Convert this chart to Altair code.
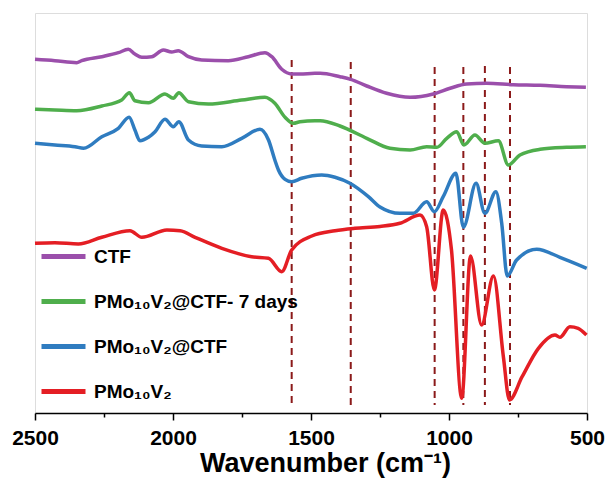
import altair as alt
import pandas as pd

# Wavenumber (cm-1) and transmittance (a.u., offset stacked)
ctf_x = [2500, 2428, 2349, 2331, 2258, 2198, 2162, 2138, 2113, 2077, 2035, 2005, 1981, 1944,
         1896, 1800, 1727, 1667, 1642, 1606, 1570, 1540, 1486, 1467, 1395, 1356, 1298, 1226,
         1141, 1057, 996, 936, 864, 767, 670, 574, 504]
ctf_y = [353.7, 352.3, 350.3, 352.3, 356.3, 360.3, 363.7, 359, 355.7, 356.3, 363, 361, 362.3, 356.3,
         353, 352.3, 356.3, 360.3, 356.3, 343.7, 339, 339, 339.7, 339.7, 336.3, 333.7, 327, 319.7,
         315.7, 319, 324.7, 329, 329.7, 328.3, 327.7, 326.3, 325.7]

d7_x = [2500, 2428, 2349, 2258, 2186, 2158, 2138, 2089, 2029, 1999, 1979, 1944, 1872, 1751,
        1667, 1631, 1594, 1564, 1540, 1486, 1467, 1395, 1298, 1214, 1141, 1081, 1044, 1008,
        972, 946, 906, 870, 821, 785, 743, 670, 574, 504]
d7_y = [303.7, 303, 302.3, 307, 313, 320.3, 312.3, 310.3, 319, 314.7, 320.3, 311.3, 309, 313,
        315.7, 309.7, 295.7, 289.7, 291.3, 292.3, 292.3, 287, 274.7, 264.7, 263, 266.3, 265.7, 274.7,
        281.3, 268, 278, 269.7, 272.3, 248, 258, 263.7, 265.7, 266.3]

pc_x = [2500, 2428, 2355, 2324, 2258, 2198, 2159, 2138, 2120, 2089, 2065, 2029, 1999, 1979,
        1944, 1896, 1823, 1751, 1685, 1654, 1631, 1618, 1594, 1570, 1534, 1461, 1413, 1359,
        1292, 1250, 1178, 1129, 1081, 1053, 1021, 975, 948, 902, 870, 830, 809, 789, 755,
        682, 598, 501]
pc_y = [269.7, 268, 266.3, 264.7, 276.3, 284.7, 295.7, 283, 272.3, 275.7, 281.3, 293.7, 286.3, 291.3,
        273, 267, 266.3, 274.7, 283.7, 273, 253, 243, 233.7, 231.3, 234.7, 238, 235.7, 229.7,
        216.3, 206, 199.7, 199.7, 211.3, 201.3, 216.3, 239.7, 185.7, 229.7, 199.7, 221.3, 189.7, 137, 153,
        163.7, 155.7, 144.7]

pm_x = [2500, 2428, 2343, 2258, 2156, 2113, 2022, 1974, 1920, 1823, 1715, 1654, 1606, 1570,
        1497, 1413, 1341, 1250, 1178, 1105, 1081, 1053, 1021, 991, 954, 922, 882, 839, 803,
        781, 735, 676, 616, 598, 562, 532, 502]
pm_y = [169.7, 170.3, 169, 175.7, 182.3, 175.7, 183, 182.3, 175.7, 164.7, 156.3, 154.7, 141.3, 163,
        177, 182.3, 184.7, 186.5, 189.7, 198, 186.3, 123, 203, 163, 14.7, 157, 88, 137, 56.3,
        13, 36.3, 64.7, 78, 75.7, 86.3, 84.7, 78]

series_names = ["CTF", "PMo₁₀V₂@CTF- 7 days", "PMo₁₀V₂@CTF", "PMo₁₀V₂"]
series_colors = ["#9b4fab", "#4fae4c", "#2f7cc0", "#e41e24"]

# Dashed reference lines (band positions)
band_x = [1570, 1356, 1052, 948, 870, 779]
band_top = [353, 351, 346, 346, 347, 346]
band_bottom = [8, 8, 8, 8, 8, 8]

rows = []
for name, xs, ys in zip(series_names, [ctf_x, d7_x, pc_x, pm_x], [ctf_y, d7_y, pc_y, pm_y]):
    for i, (a, b) in enumerate(zip(xs, ys)):
        rows.append({"series": name, "wn": a, "T": b, "order": i})
df = pd.DataFrame(rows)
bands = pd.DataFrame({"wn": band_x, "top": band_top, "bottom": band_bottom})

xscale = alt.Scale(domain=[2500, 500], nice=False, zero=False)
yscale = alt.Scale(domain=[0, 400], nice=False, zero=False)

xaxis = alt.Axis(
    values=list(range(2500, 499, -250)),
    labelExpr="datum.value % 500 == 0 ? datum.label : ''",
    format="d",
    title="Wavenumber (cm⁻¹)",
    titleFont="Liberation Sans", titleFontSize=27, titleFontWeight="bold", titleColor="black",
    titlePadding=2, titleX=290, titleAlign="center",
    labelFont="Liberation Sans", labelFontSize=21, labelFontWeight="bold", labelColor="black",
    labelPadding=7, labelOverlap=False, labelFlush=False,
    tickSize={"condition": {"test": "datum.value % 500 == 0", "value": 7}, "value": 4},
    tickColor="black", tickWidth=1.5,
    domainColor="black", domainWidth=1.5, grid=False,
)

rules = alt.Chart(bands).mark_rule(color="#8b1a1a", strokeWidth=2, strokeDash=[7, 5]).encode(
    x=alt.X("wn:Q", scale=xscale, axis=xaxis),
    y=alt.Y("top:Q", scale=yscale, axis=None),
    y2="bottom:Q",
)

lines = alt.Chart(df).mark_line(strokeWidth=3.5, interpolate="monotone").encode(
    x=alt.X("wn:Q", scale=xscale, axis=xaxis),
    y=alt.Y("T:Q", scale=yscale, axis=None),
    color=alt.Color(
        "series:N",
        scale=alt.Scale(domain=series_names, range=series_colors),
        sort=series_names,
        legend=alt.Legend(
            title=None, orient="none", legendX=4, legendY=219,
            symbolType="stroke", symbolStrokeWidth=5, symbolSize=1936,
            labelFont="Liberation Sans", labelFontSize=19, labelFontWeight="bold",
            labelColor="black", labelOffset=6, rowPadding=10, padding=0,
            labelLimit=400,
        ),
    ),
    order="order:Q",
    detail="series:N",
)

chart = alt.layer(rules, lines).properties(
    width=552, height=400,
    autosize=alt.AutoSizeParams(type="none"),
    padding={"left": 35, "top": 13, "right": 21, "bottom": 73},
).configure_view(stroke="black", strokeWidth=1.5).configure(background="white")

chart.save("out.html", embed_options={"renderer": "svg", "actions": False})
